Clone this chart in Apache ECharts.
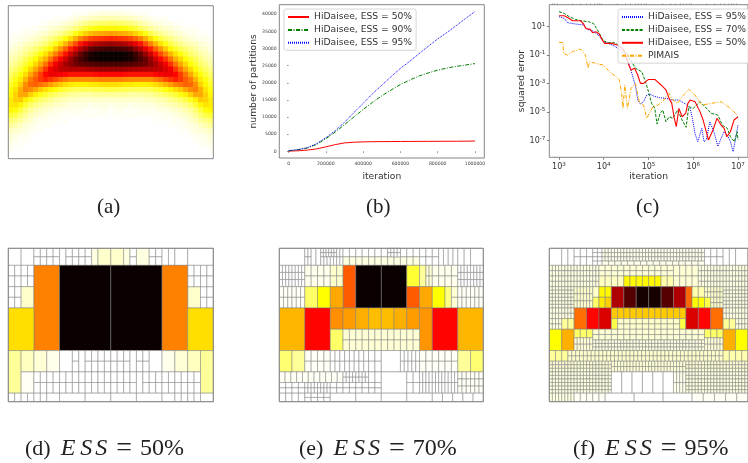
<!DOCTYPE html>
<html><head><meta charset="utf-8">
<style>html,body{margin:0;padding:0;background:#fff;overflow:hidden}#c{width:748px;height:463px}</style>
<script src="https://cdn.jsdelivr.net/npm/echarts@6/dist/echarts.min.js"></script>
</head><body><div id="c"></div>
<script>
// (a) density, left half of the picture, one list per column (top to bottom); 0 white .. 100 black
const densityColumns = [
[0,0,0,0,0,0,1,2,3,5,7,9,12,15,18,21,24,26,28,28,26,20,14,10,6,4,3,2,1,0],
[0,0,0,0,0,1,2,3,5,7,9,12,15,19,23,26,29,32,32,29,24,18,12,8,5,3,2,1,0,0],
[0,0,0,0,0,1,2,4,6,9,12,15,19,24,28,32,37,38,33,26,19,14,10,6,4,2,1,1,0,0],
[0,0,0,0,1,2,3,6,9,12,16,20,25,30,36,42,44,38,27,20,14,10,7,4,3,2,1,0,0,0],
[0,0,0,0,1,2,4,7,11,15,20,25,31,38,45,48,42,32,22,15,10,7,5,3,2,1,0,0,0,0],
[0,0,0,0,1,3,5,9,14,19,25,31,38,46,50,49,38,27,18,12,8,5,3,2,1,0,0,0,0,0],
[0,0,0,1,2,4,7,11,17,24,31,38,46,54,55,46,33,23,15,10,6,4,2,1,1,0,0,0,0,0],
[0,0,0,1,3,5,9,14,21,29,37,46,55,62,58,44,30,20,13,8,5,3,2,1,0,0,0,0,0,0],
[0,0,0,2,4,7,12,18,26,36,46,56,64,65,55,40,27,17,11,7,4,2,1,1,0,0,0,0,0,0],
[0,0,1,2,5,9,15,23,33,44,55,64,68,65,52,36,24,15,9,6,3,2,1,0,0,0,0,0,0,0],
[0,0,1,3,6,11,19,29,41,52,62,70,72,64,48,33,21,13,8,5,3,1,1,0,0,0,0,0,0,0],
[0,0,1,4,8,14,24,36,49,60,70,76,73,62,45,30,19,12,7,4,2,1,1,0,0,0,0,0,0,0],
[0,0,2,5,10,18,30,44,58,70,78,80,74,60,42,28,17,10,6,3,2,1,0,0,0,0,0,0,0,0],
[0,1,3,7,13,23,37,52,66,78,85,84,74,60,42,27,16,10,6,3,2,1,0,0,0,0,0,0,0,0],
[0,1,4,9,16,28,44,60,74,86,90,86,74,60,42,27,16,9,5,3,2,1,0,0,0,0,0,0,0,0],
[0,1,5,11,20,32,49,66,80,92,94,87,75,60,42,27,16,9,5,3,1,1,0,0,0,0,0,0,0,0],
[0,2,6,13,22,35,53,71,86,97,98,88,76,60,42,28,16,9,5,2,1,1,0,0,0,0,0,0,0,0],
[0,2,7,14,24,37,55,74,89,99,99,89,77,61,43,28,17,10,5,3,1,1,0,0,0,0,0,0,0,0],
[0,3,7,15,25,38,56,76,90,100,100,90,78,62,44,29,17,10,5,3,2,1,0,0,0,0,0,0,0,0],
[0,3,8,15,26,39,57,77,91,100,100,90,78,62,44,30,18,10,5,3,2,1,0,0,0,0,0,0,0,0],
[0,3,8,16,26,40,58,78,92,100,100,90,78,62,44,30,18,10,5,2,1,0,0,0,0,0,0,0,0,0]
];
// (b) partitions against iteration
const iterations = [0,50000,100000,150000,200000,250000,300000,350000,400000,450000,500000,550000,600000,650000,700000,750000,800000,850000,900000,950000,1000000];
const partitions50 = [50,150,350,700,1300,1950,2450,2650,2750,2800,2830,2850,2870,2880,2900,2910,2920,2930,2940,2960,3000];
const partitions90 = [150,450,950,2000,3700,5600,7800,10000,12200,14300,16200,17900,19500,20800,22000,22900,23700,24300,24800,25200,25600];
const partitions95 = [200,500,1050,2200,4000,6000,8500,11300,14000,16800,19300,21800,24200,26300,28500,30700,32800,34700,36700,38800,40800];
const xTicksB = [0,200000,400000,600000,800000,1000000];
const yTicksB = [0,5000,10000,15000,20000,25000,30000,35000,40000];
// (c) squared error, pairs of [log10 iteration, log10 error]
const error95 = [[3,1.7],[3.12,1.58],[3.19,1.28],[3.37,1.19],[3.55,1.12],[3.63,.81],[3.74,.72],[3.88,.42],[3.99,-.05],[4.1,-.17],[4.24,-.36],[4.38,-.64],[4.49,-1.15],[4.56,-1.57],[4.64,-2.39],[4.71,-3.2],[4.76,-4.15],[4.82,-4.43],[4.89,-4.26],[4.96,-3.8],[5.03,-3.73],[5.14,-3.9],[5.25,-3.98],[5.39,-4.03],[5.54,-4.15],[5.68,-4.15],[5.83,-4.43],[5.93,-4.73],[5.98,-5.43],[6.04,-6.5],[6.1,-7.07],[6.14,-7],[6.19,-6.13],[6.24,-7.07],[6.29,-6.95],[6.37,-5.67],[6.46,-6.37],[6.55,-7.4],[6.62,-6.84],[6.69,-6.37],[6.78,-6.72],[6.83,-7.07],[6.89,-7.77],[6.94,-6.95],[7,-5.9]];
const error70 = [[3,2.05],[3.12,1.93],[3.23,1.7],[3.37,1.51],[3.48,1.42],[3.66,1.35],[3.77,1.23],[3.84,.88],[3.92,.42],[3.99,.02],[4.1,-.12],[4.24,-.12],[4.38,-.4],[4.49,-.75],[4.6,-1.34],[4.71,-1.92],[4.85,-2.16],[4.92,-2.74],[5,-3.56],[5.07,-4.38],[5.14,-4.73],[5.19,-5.83],[5.26,-5.08],[5.32,-4.85],[5.39,-5.67],[5.46,-5.32],[5.54,-5.43],[5.65,-4.85],[5.75,-5.55],[5.84,-6.06],[5.9,-4.61],[6,-4.73],[6.15,-4.26],[6.26,-4.61],[6.4,-5.08],[6.55,-5.2],[6.65,-5.9],[6.76,-6.13],[6.83,-6.72],[6.92,-7.07],[6.98,-6.37],[7,-6.95]];
const error50 = [[3,1.77],[3.12,1.77],[3.23,1.58],[3.3,1.42],[3.48,1.42],[3.55,1.19],[3.6,.88],[3.7,.81],[3.75,.58],[3.82,.65],[3.89,.53],[3.97,.06],[4.02,-.17],[4.17,-.17],[4.31,-.29],[4.42,-.52],[4.49,-.99],[4.56,-1.69],[4.61,-2.04],[4.69,-1.92],[4.76,-2.39],[4.82,-2.98],[4.89,-2.98],[5,-2.7],[5.14,-2.7],[5.28,-3.09],[5.39,-3.44],[5.46,-4.03],[5.52,-4.38],[5.57,-5.32],[5.62,-6.02],[5.68,-4.73],[5.75,-5.32],[5.83,-5.08],[5.88,-4.38],[5.93,-4.15],[6.04,-4.26],[6.15,-4.96],[6.22,-5.55],[6.29,-6.37],[6.34,-6.95],[6.44,-6.25],[6.53,-5.43],[6.62,-5.9],[6.69,-6.13],[6.75,-6.72],[6.83,-6.37],[6.91,-5.55],[7,-5.32]];
const errorPimais = [[3,-.1],[3.09,-.1],[3.1,-.87],[3.19,-.99],[3.3,-.75],[3.48,-.57],[3.59,-.99],[3.65,-1.92],[3.68,-1.46],[3.77,-1.53],[3.88,-1.62],[3.99,-1.69],[4.13,-2.16],[4.28,-2.51],[4.35,-2.74],[4.4,-3.68],[4.43,-4.73],[4.47,-3.09],[4.53,-4.73],[4.61,-3.33],[4.71,-2.98],[4.8,-4.38],[4.89,-4.5],[4.96,-5.43],[5.1,-4.61],[5.21,-4.5],[5.32,-4.26],[5.39,-3.91],[5.46,-3.68],[5.54,-4.15],[5.65,-4.38],[5.75,-3.91],[5.9,-3.4],[6.04,-3.8],[6.19,-4.5],[6.4,-4.38],[6.62,-4.26],[6.83,-4.73],[6.98,-5.2],[7,-5.25]];
const xDecades = [3,4,5,6,7];
const xMinorC = [700,800,900,2e3,3e3,4e3,5e3,6e3,7e3,8e3,9e3,2e4,3e4,4e4,5e4,6e4,7e4,8e4,9e4,2e5,3e5,4e5,5e5,6e5,7e5,8e5,9e5,2e6,3e6,4e6,5e6,6e6,7e6,8e6,9e6];
const yMajorDecades = [1,-1,-3,-5,-7];
const yMinorDecades = [2,0,-2,-4,-6,-8];
// (d)(e)(f) partitions: blocks of [x0,x1,y0,y1,columns,rows,value]; x in 64ths, y in 72nds
const cellsD = [
[0,4,0,8,1,1],[4,8,0,8,1,1],[8,16,0,8,4,2],[16,18,0,8,1,1],[18,26,0,8,4,2],[26,28,0,8,1,1,3],[28,32,0,8,1,1,5],[32,36,0,8,1,1,5],[36,38,0,8,1,1,3],[38,40,0,8,1,2],[40,44,0,8,1,1,3],[44,48,0,8,2,2],[48,50,0,8,1,1],[50,52,0,8,1,1],[52,56,0,8,1,1],[56,64,0,8,1,1],
[0,8,8,18,4,2],[0,4,18,28,2,2],[4,8,18,28,1,1,5],[56,60,18,28,1,1,5],[60,64,18,28,2,2],[56,64,8,18,4,2],
[8,16,8,48,1,1,44],[16,32,8,48,1,1,100],[32,48,8,48,1,1,100],[48,56,8,48,1,1,44],[0,8,28,48,1,1,30],[56,64,28,48,1,1,30],
[0,4,48,68,1,1,10],[4,8,48,58,1,1,6],[8,12,48,58,1,1,4],[12,16,48,58,1,1,2],[16,20,48,58,1,1],[20,22,48,58,1,2],[22,24,48,58,1,1],[24,38,48,58,7,2],[38,40,48,58,1,1],[40,44,48,58,2,2],[44,48,48,58,1,1],[48,52,48,58,1,1,2],[52,56,48,58,1,1,4],[56,60,48,58,1,1,6],[60,64,48,68,1,1,10],
[4,8,58,68,1,1,1],[8,40,58,68,16,2],[40,42,58,68,1,1],[42,60,58,68,9,2],
[0,2,68,72,1,1],[2,4,68,72,1,1],[4,6,68,72,1,1],[6,8,68,72,1,1],[8,10,68,72,1,1],[10,12,68,72,1,1],[12,16,68,72,1,1],[16,24,68,72,1,1],[24,32,68,72,1,1],[32,40,68,72,1,1],[40,48,68,72,1,1],[48,52,68,72,1,1],[52,54,68,72,1,1],[54,56,68,72,1,1],[56,58,68,72,1,1],[58,60,68,72,1,1],[60,64,68,72,1,1]
];
const cellsE = [
[0,8,0,8,1,1],[8,10,0,8,2,2],[10,13,0,8,2,1],[13,18,0,4,6,2],[18,20,0,4,2,1],[13,20,4,8,7,1],[20,44,0,4,12,1],[20,44,4,8,12,1,3],[34,38,0,4,4,2],[44,50,0,8,3,2],[50,56,0,8,4,1],[56,60,0,8,2,1],[60,64,0,8,1,1],
[0,8,8,18,8,3],[8,16,8,18,4,2,2],[16,20,8,18,2,2,5],[20,24,8,28,1,1,50],[24,32,8,28,1,1,100],[32,40,8,28,1,1,100],[40,44,8,18,1,1,20],[44,46,8,18,1,1,10],[46,48,8,18,2,2,4],[48,56,8,18,4,2,2],[56,64,8,18,8,3],
[0,8,18,28,6,2,1],[8,12,18,28,1,1,15],[12,16,18,28,1,1,25],[16,20,18,28,1,1,38],[40,44,18,28,1,1,50],[44,48,18,28,1,1,38],[48,52,18,28,1,1,25],[52,54,18,28,1,1,12],[54,56,18,28,1,2,4],[56,64,18,28,6,2,1],
[0,8,28,48,1,1,36],[8,16,28,48,1,1,62],[16,20,28,38,1,1,42],[20,24,28,38,1,1,40],[24,28,28,38,1,1,37],[28,32,28,38,1,1,35],[32,36,28,38,1,1,35],[36,40,28,38,1,1,37],[40,44,28,38,1,1,40],[44,48,28,48,1,1,41],[48,56,28,48,1,1,62],[56,64,28,48,1,1,36],[16,20,38,48,1,1,15],[20,44,38,48,12,2,4],
[0,4,48,58,1,1,14],[4,8,48,58,1,1,10],[8,16,48,58,4,2,1],[16,28,48,58,8,2],[28,32,48,58,2,2],[32,38,48,58,1,1],[38,44,48,58,5,2],[44,56,48,58,6,2,1],[56,60,48,58,1,1,10],[60,64,48,58,1,1,14],
[0,20,58,63,11,1,1],[20,28,58,63,8,2],[28,32,58,63,2,1],[0,8,63,68,4,2],[8,16,63,68,8,2],[16,32,63,68,8,2],[32,40,58,68,1,1],[40,44,58,68,2,2],[44,50,58,68,6,2],[50,56,58,68,6,2],[56,64,58,68,6,3,1],
[0,8,68,72,4,1],[8,16,68,72,4,2],[16,32,68,72,2,1],[32,48,68,72,2,1],[48,64,68,72,5,1]
];
const cellsF = [
[0,4,0,8,1,1],[4,8,0,8,2,1],[8,14,0,8,3,2],[14,17,0,8,2,4],[17,50,0,6,33,3,2],[17,50,6,8,16,1,2],[50,56,0,8,3,2],[56,60,0,8,2,1],[60,64,0,8,1,1],
[0,16,8,18,16,4,3],[16,24,8,13,4,2,4],[16,24,13,18,4,1,6],[24,36,8,13,6,2,4],[24,36,13,18,6,1,26],[36,40,8,13,2,2,4],[36,40,13,18,2,1,8],[40,48,8,18,4,2,4],[48,64,8,18,16,4,3],
[0,8,18,28,8,6,3],[8,14,18,28,6,3,5],[14,16,18,23,1,1,5],[14,16,23,28,1,1,15],[16,20,18,23,2,1,26],[16,18,23,28,1,1,28],[18,20,23,28,1,1,32],[20,24,18,28,1,1,75],[24,28,18,28,1,1,88],[28,32,18,28,1,1,98],[32,36,18,28,1,1,98],[36,40,18,28,1,1,88],[40,44,18,28,1,1,75],[44,46,18,28,1,1,48],[46,50,18,23,2,1,8],[46,50,23,28,2,1,25],[50,52,23,28,1,1,18],[50,56,18,23,6,2,5],[52,56,23,28,4,2,5],[56,64,18,28,8,6,3],
[0,8,28,33,8,2,3],[0,4,33,38,4,2,3],[4,8,33,38,2,1,10],[8,12,28,38,1,1,47],[12,16,28,38,1,1,62],[16,20,28,38,1,1,68],[20,44,28,33,12,1,33],[20,22,33,38,1,1,18],[22,42,33,38,10,2,5],[42,44,33,38,1,1,18],[44,46,33,38,1,1,18],[44,48,28,38,1,1,68],[48,52,28,38,1,1,62],[52,56,28,38,1,1,47],[56,60,33,38,2,1,10],[56,64,28,33,8,2,3],[60,64,33,38,4,2,3],
[0,4,38,48,1,1,25],[4,8,38,48,1,1,37],[8,14,38,42,3,1,15],[8,14,42,48,6,2,4],[14,50,38,43,18,2,4],[14,50,43,48,36,3,3],[50,56,38,42,3,1,15],[50,56,42,48,6,2,4],[56,60,38,48,1,1,37],[60,64,38,48,1,1,25],
[0,6,48,53,3,1,10],[6,56,48,53,40,2,5],[56,64,48,53,4,1,8],
[0,20,53,58,20,3,4],[20,44,53,58,24,2,4],[44,64,53,58,20,3,4],[0,20,58,68,20,6,3],[20,40,58,68,6,1],[40,44,58,68,4,2,2],[44,64,58,68,20,6,3],
[0,8,68,72,8,1,3],[8,18,68,72,5,1,1],[18,46,68,72,3,1],[46,64,68,72,5,1,1]
];

const hotStops = ['#ffffff','#ffff80','#ffff00','#ffac00','#ff5a00','#ff0000','#ae0000','#580000','#0a0000'];
const fonts = 'DejaVu Sans';
const serif = 'Liberation Serif';

const nCols = densityColumns.length * 2 - 1, nRows = densityColumns[0].length;
const heat = [];
for (let i = 0; i < nCols; i++) {
  const col = densityColumns[i < densityColumns.length ? i : nCols - 1 - i];
  for (let j = 0; j < nRows; j++) heat.push([i, j, col[j]]);
}
function expand(blocks) {
  const out = [];
  for (const [x0, x1, y0, y1, nx, ny, v] of blocks) {
    for (let i = 0; i < nx; i++) for (let j = 0; j < ny; j++)
      out.push([x0 + (x1 - x0) * i / nx, y0 + (y1 - y0) * j / ny, x0 + (x1 - x0) * (i + 1) / nx, y0 + (y1 - y0) * (j + 1) / ny, v || 0]);
  }
  return out;
}
const pow = e => Math.pow(10, e);
const toPairs = list => list.map(p => [pow(p[0]), pow(p[1])]);
const zip = (xs, ys) => xs.map((x, i) => [x, ys[i]]);
const yMajorC = yMajorDecades.map(pow), yMinorC = yMinorDecades.map(pow);

function cellItem(params, api) {
  const a = api.coord([api.value(0), api.value(1)]), b = api.coord([api.value(2), api.value(3)]);
  return { type: 'rect', shape: { x: a[0], y: a[1], width: b[0] - a[0], height: b[1] - a[1] },
    style: { fill: api.visual('color'), stroke: 'rgba(125,125,125,0.55)', lineWidth: 0.9 } };
}
const gridBase = { show: true, z: 5, backgroundColor: 'transparent', borderColor: '#858585', borderWidth: 1, containLabel: false };
const hidden = { show: false };
const panelX = g => ({ type: 'value', gridIndex: g, min: 0, max: 64, show: false });
const panelY = g => ({ type: 'value', gridIndex: g, min: 0, max: 72, inverse: true, show: false });
const capRich = {
  r: { fontFamily: serif, fontSize: 22, color: '#222', padding: [0, 10, 0, 0] },
  i: { fontFamily: serif, fontStyle: 'italic', fontSize: 24, color: '#222', padding: [0, 5, 0, 0] },
  j: { fontFamily: serif, fontStyle: 'italic', fontSize: 24, color: '#222', padding: [0, 3, 0, 0] },
  e: { fontFamily: serif, fontSize: 28, color: '#222', padding: [0, 8, 0, 6] },
  p: { fontFamily: serif, fontSize: 24, color: '#222' }
};
const cap = (text, left, top) => ({ text, left, top, padding: 0, textStyle: { fontFamily: serif, fontWeight: 'normal', fontSize: 21, color: '#222', rich: capRich } });
const capMath = (label, pct) => '{r|' + label + '}{i|E}{j|S}{j|S}{e|=}{p|' + pct + '}';
const expLabel = v => '10{s|' + Math.round(Math.log10(v)) + '}';
const expRich = { s: { fontSize: 5.6, fontFamily: fonts, color: '#333', verticalAlign: 'top', padding: [0, 0, 5, 0] } };
const nameStyle = { fontFamily: fonts, fontSize: 9.2, color: '#333' };
const legendBase = { orient: 'vertical', top: 9, selectedMode: false, itemWidth: 21, itemHeight: 8, itemGap: 3.9,
  itemStyle: { opacity: 0, borderWidth: 0 }, backgroundColor: 'rgba(255,255,255,0.8)', borderColor: '#ccc', borderWidth: 0.8, borderRadius: 2, z: 6,
  textStyle: { fontFamily: fonts, fontSize: 9.2, color: '#333' } };

const option = {
  animation: false,
  backgroundColor: '#fff',
  title: [
    cap('(a)', 97, 197), cap('(b)', 366, 197), cap('(c)', 636, 197),
    cap(capMath('(d)', '50%'), 25, 435), cap(capMath('(e)', '70%'), 299, 435), cap(capMath('(f)', '95%'), 573, 435)
  ],
  grid: [
    { ...gridBase, left: 8.3, top: 5.7, width: 205, height: 153 },
    { ...gridBase, left: 279.3, top: 4.7, width: 205, height: 153.3 },
    { ...gridBase, left: 549.3, top: 4.7, width: 205.3, height: 152.6 },
    { ...gridBase, left: 8.3, top: 248.3, width: 205, height: 153.4 },
    { ...gridBase, left: 279.3, top: 248.3, width: 204, height: 153.4 },
    { ...gridBase, left: 549.3, top: 248.3, width: 204, height: 153.4 }
  ],
  xAxis: [
    { type: 'category', gridIndex: 0, data: heat.filter(d => d[1] === 0).map(d => d[0]), show: false },
    { type: 'value', gridIndex: 1, min: -50000, max: 1050000, splitLine: hidden, axisLine: hidden,
      axisTick: { length: 1.6, lineStyle: { color: '#444', width: 0.6 }, customValues: xTicksB },
      axisLabel: { customValues: xTicksB, fontSize: 4.6, color: '#444', fontFamily: fonts, margin: 3, formatter: v => String(v) },
      name: 'iteration', nameLocation: 'middle', nameGap: 14, nameTextStyle: nameStyle },
    { type: 'log', logBase: 10, gridIndex: 2, min: 608, max: 1.67e7, splitLine: hidden, axisLine: hidden,
      axisTick: { length: 2.4, lineStyle: { color: '#444', width: 0.7 }, customValues: xDecades.map(pow) },
      axisLabel: { customValues: xDecades.map(pow), fontSize: 8, color: '#333', fontFamily: fonts, margin: 4, formatter: expLabel, rich: expRich },
      name: 'iteration', nameLocation: 'middle', nameGap: 13, nameTextStyle: nameStyle },
    { type: 'log', logBase: 10, gridIndex: 2, min: 608, max: 1.67e7, splitLine: hidden, axisLine: hidden,
      axisTick: { length: 1.3, lineStyle: { color: '#555', width: 0.5 }, customValues: xMinorC }, axisLabel: hidden },
    panelX(3), panelX(4), panelX(5)
  ],
  yAxis: [
    { type: 'category', gridIndex: 0, inverse: true, data: densityColumns[0].map((_, i) => i), show: false },
    { type: 'value', gridIndex: 1, min: -1956, max: 42800, splitLine: hidden, axisLine: hidden,
      axisTick: { length: 1.6, lineStyle: { color: '#444', width: 0.6 }, customValues: yTicksB },
      axisLabel: { customValues: yTicksB, fontSize: 4.6, color: '#444', fontFamily: fonts, margin: 2.6, formatter: v => String(v) },
      name: 'number of partitions', nameLocation: 'middle', nameGap: 20, nameTextStyle: nameStyle },
    { type: 'log', logBase: 10, gridIndex: 2, min: 6.84e-9, max: 350, splitLine: hidden, axisLine: hidden,
      axisTick: { length: 2.4, lineStyle: { color: '#444', width: 0.7 }, customValues: yMajorC },
      axisLabel: { customValues: yMajorC, fontSize: 8, color: '#333', fontFamily: fonts, margin: 4, formatter: expLabel, rich: expRich },
      name: 'squared error', nameLocation: 'middle', nameGap: 22, nameTextStyle: nameStyle },
    { type: 'log', logBase: 10, gridIndex: 2, min: 6.84e-9, max: 350, splitLine: hidden, axisLine: hidden,
      axisTick: { length: 1.3, lineStyle: { color: '#555', width: 0.5 }, customValues: yMinorC }, axisLabel: hidden },
    panelY(3), panelY(4), panelY(5)
  ],
  visualMap: [
    { show: false, type: 'continuous', seriesIndex: 0, dimension: 2, min: 0, max: 100, inRange: { color: hotStops } },
    { show: false, type: 'continuous', seriesIndex: [8, 9, 10], dimension: 4, min: 0, max: 100, inRange: { color: hotStops } }
  ],
  legend: [
    { ...legendBase, data: ['HiDaisee, ESS = 50%', 'HiDaisee, ESS = 90%', 'HiDaisee, ESS = 95%'], left: 284, padding: [3.5, 4, 3, 3] },
    { ...legendBase, data: ['HiDaisee, ESS = 95%', 'HiDaisee, ESS = 70%', 'HiDaisee, ESS = 50%', 'PIMAIS'], left: 618, padding: [3.5, 12, 3, 3] }
  ],
  series: [
    { type: 'heatmap', xAxisIndex: 0, yAxisIndex: 0, data: heat, progressive: 0, emphasis: { disabled: true } },
    { type: 'line', name: 'HiDaisee, ESS = 50%', xAxisIndex: 1, yAxisIndex: 1, symbol: 'none', data: zip(iterations, partitions50), lineStyle: { color: '#ff0000', width: 1 }, itemStyle: { color: '#ff0000' } },
    { type: 'line', name: 'HiDaisee, ESS = 90%', xAxisIndex: 1, yAxisIndex: 1, symbol: 'none', data: zip(iterations, partitions90), lineStyle: { color: '#008000', width: 1, type: [4, 1.5, 1, 1.5] }, itemStyle: { color: '#008000' } },
    { type: 'line', name: 'HiDaisee, ESS = 95%', xAxisIndex: 1, yAxisIndex: 1, symbol: 'none', data: zip(iterations, partitions95), lineStyle: { color: '#0000ff', width: 1, type: [1, 1] }, itemStyle: { color: '#0000ff' } },
    { type: 'line', name: 'HiDaisee, ESS = 95%', xAxisIndex: 2, yAxisIndex: 2, symbol: 'none', data: toPairs(error95), lineStyle: { color: '#0000ff', width: 1, type: [1, 1] }, itemStyle: { color: '#0000ff' } },
    { type: 'line', name: 'HiDaisee, ESS = 70%', xAxisIndex: 2, yAxisIndex: 2, symbol: 'none', data: toPairs(error70), lineStyle: { color: '#008000', width: 1, type: [3, 1.4] }, itemStyle: { color: '#008000' } },
    { type: 'line', name: 'HiDaisee, ESS = 50%', xAxisIndex: 2, yAxisIndex: 2, symbol: 'none', data: toPairs(error50), lineStyle: { color: '#ff0000', width: 1.1 }, itemStyle: { color: '#ff0000' } },
    { type: 'line', name: 'PIMAIS', xAxisIndex: 2, yAxisIndex: 2, symbol: 'none', data: toPairs(errorPimais), lineStyle: { color: '#ffa500', width: 1, type: [4, 1.5, 1, 1.5] }, itemStyle: { color: '#ffa500' } },
    { type: 'custom', xAxisIndex: 4, yAxisIndex: 4, renderItem: cellItem, data: expand(cellsD), encode: { x: [0, 2], y: [1, 3] }, progressive: 0, silent: true },
    { type: 'custom', xAxisIndex: 5, yAxisIndex: 5, renderItem: cellItem, data: expand(cellsE), encode: { x: [0, 2], y: [1, 3] }, progressive: 0, silent: true },
    { type: 'custom', xAxisIndex: 6, yAxisIndex: 6, renderItem: cellItem, data: expand(cellsF), encode: { x: [0, 2], y: [1, 3] }, progressive: 0, silent: true }
  ]
};
echarts.init(document.getElementById('c'), null, { renderer: 'canvas' }).setOption(option);
</script></body></html>
